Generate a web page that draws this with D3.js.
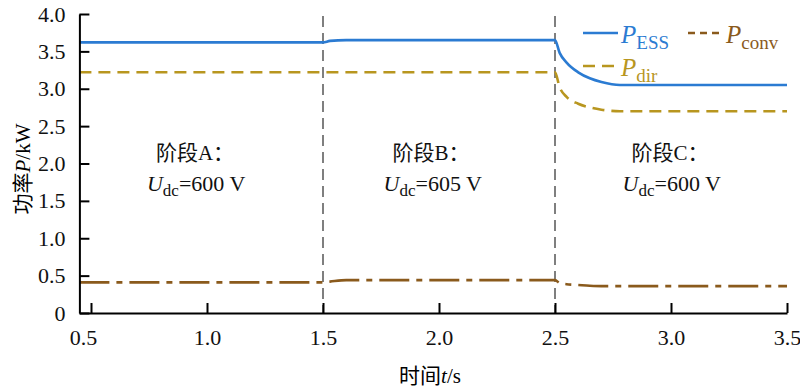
<!DOCTYPE html>
<html>
<head>
<meta charset="utf-8">
<script src="https://cdn.jsdelivr.net/npm/d3@7"></script>
<style>
  body { margin: 0; background: #fff; }
</style>
</head>
<body>
<div id="chart"></div>
<script>
// time axis (s) and power series (kW)
let time = [0.45, 1.5, 1.53, 1.6, 2.5, 2.52, 2.55, 2.6, 2.65, 2.7, 2.78, 3.5];
let pESS = [3.62, 3.62, 3.64, 3.65, 3.65, 3.48, 3.35, 3.22, 3.14, 3.09, 3.05, 3.05];
let pDir = [3.22, 3.22, 3.22, 3.22, 3.22, 3.02, 2.89, 2.8, 2.75, 2.72, 2.7, 2.7];
let pConv = [0.41, 0.41, 0.42, 0.44, 0.44, 0.4, 0.385, 0.375, 0.365, 0.36, 0.36, 0.36];
let xTicks = [0.5, 1.0, 1.5, 2.0, 2.5, 3.0, 3.5];
let yTicks = [0, 0.5, 1.0, 1.5, 2.0, 2.5, 3.0, 3.5, 4.0];
let stageLines = [1.5, 2.5];
let stageNames = ["阶段A：", "阶段B：", "阶段C："];
let stageVolt = ["600 V", "605 V", "600 V"];
let stageX = [0.78, 1.8, 2.83];

let FONT = "'Times New Roman', 'Liberation Serif', 'DejaVu Serif', 'Noto Sans CJK SC', serif";

let width = 800,
  height = 391;

let svg = d3
  .select("#chart")
  .append("svg")
  .attr("width", width)
  .attr("height", height)
  .attr("font-family", FONT);

let x = d3.scaleLinear().domain([0.45, 3.5]).range([79.4, 787]);
let y = d3.scaleLinear().domain([0, 4]).range([313, 14]);

let series = [
  { name: "ESS", values: pESS, color: "#2b7bd2", dash: null },
  { name: "dir", values: pDir, color: "#b8961f", dash: "12,7" },
  { name: "conv", values: pConv, color: "#8a5a1c", dash: "30,7,6,7" },
];

//stage boundaries
stageLines.forEach((t) =>
  svg
    .append("line")
    .attr("x1", x(t))
    .attr("x2", x(t))
    .attr("y1", y(4) + 2)
    .attr("y2", y(0))
    .attr("stroke", "#555")
    .attr("stroke-width", 1.5)
    .attr("stroke-dasharray", "11,6")
);

let line = d3
  .line()
  .x((d, i) => x(time[i]))
  .y((d) => y(d))
  .curve(d3.curveMonotoneX);

series.forEach((s) =>
  svg
    .append("path")
    .datum(s.values)
    .attr("d", line)
    .attr("fill", "none")
    .attr("stroke", s.color)
    .attr("stroke-width", 2.6)
    .attr("stroke-dasharray", s.dash)
);

//axes
let xAxis = d3
  .axisBottom(x)
  .tickValues(xTicks)
  .tickSizeInner(-10)
  .tickSizeOuter(0)
  .tickPadding(16)
  .tickFormat(d3.format(".1f"));
let gx = svg.append("g").attr("transform", "translate(0," + y(0) + ")").call(xAxis);

let yAxis = d3
  .axisLeft(y)
  .tickValues(yTicks)
  .tickSizeInner(-10)
  .tickSizeOuter(0)
  .tickPadding(14)
  .tickFormat((d) => (d === 0 ? "0" : d3.format(".1f")(d)));
let gy = svg.append("g").attr("transform", "translate(" + x(0.45) + ",0)").call(yAxis);

[gx, gy].forEach((g) => {
  g.attr("font-family", FONT);
  g.select(".domain").attr("stroke", "#000").attr("stroke-width", 2);
  g.selectAll(".tick line").attr("stroke", "#000").attr("stroke-width", 2);
  g.selectAll(".tick text").attr("font-size", 22).attr("fill", "#111");
});
gx.select(".tick text").attr("dx", -8);

//axis titles
svg
  .append("text")
  .attr("x", 430)
  .attr("y", 383)
  .attr("text-anchor", "middle")
  .attr("font-size", 21)
  .html('时间<tspan font-style="italic">t</tspan>/s');

svg
  .append("text")
  .attr("transform", "translate(30,169) rotate(-90)")
  .attr("text-anchor", "middle")
  .attr("font-size", 21)
  .html('功率<tspan font-style="italic">P</tspan>/kW');

//stage labels
stageNames.forEach((nm, i) => {
  svg
    .append("text")
    .attr("x", x(stageX[i]))
    .attr("y", 160)
    .attr("font-size", 21)
    .attr("fill", "#111")
    .text(nm);
  let t = svg
    .append("text")
    .attr("x", x(stageX[i]) - 9)
    .attr("y", 191)
    .attr("font-size", 22)
    .attr("fill", "#111");
  t.append("tspan").attr("font-style", "italic").text("U");
  t.append("tspan").attr("font-size", 17).attr("dy", 5).text("dc");
  t.append("tspan").attr("dy", -5).text("=" + stageVolt[i]);
});

//legend
let legendPos = [
  { x: 583, y: 33 },
  { x: 583, y: 66 },
  { x: 688, y: 33 },
];
series.forEach((s, i) => {
  let p = legendPos[i];
  svg
    .append("line")
    .attr("x1", p.x)
    .attr("x2", p.x + 35)
    .attr("y1", p.y)
    .attr("y2", p.y)
    .attr("stroke", s.color)
    .attr("stroke-width", 2.6)
    .attr("stroke-dasharray", s.name === "conv" ? "7,5" : s.dash);
  let t = svg
    .append("text")
    .attr("x", p.x + 38)
    .attr("y", p.y + 10)
    .attr("font-size", 25)
    .attr("fill", s.color);
  t.append("tspan").attr("font-style", "italic").text("P");
  t.append("tspan").attr("font-size", 19).attr("dy", 6).text(s.name);
});
</script>
</body>
</html>
